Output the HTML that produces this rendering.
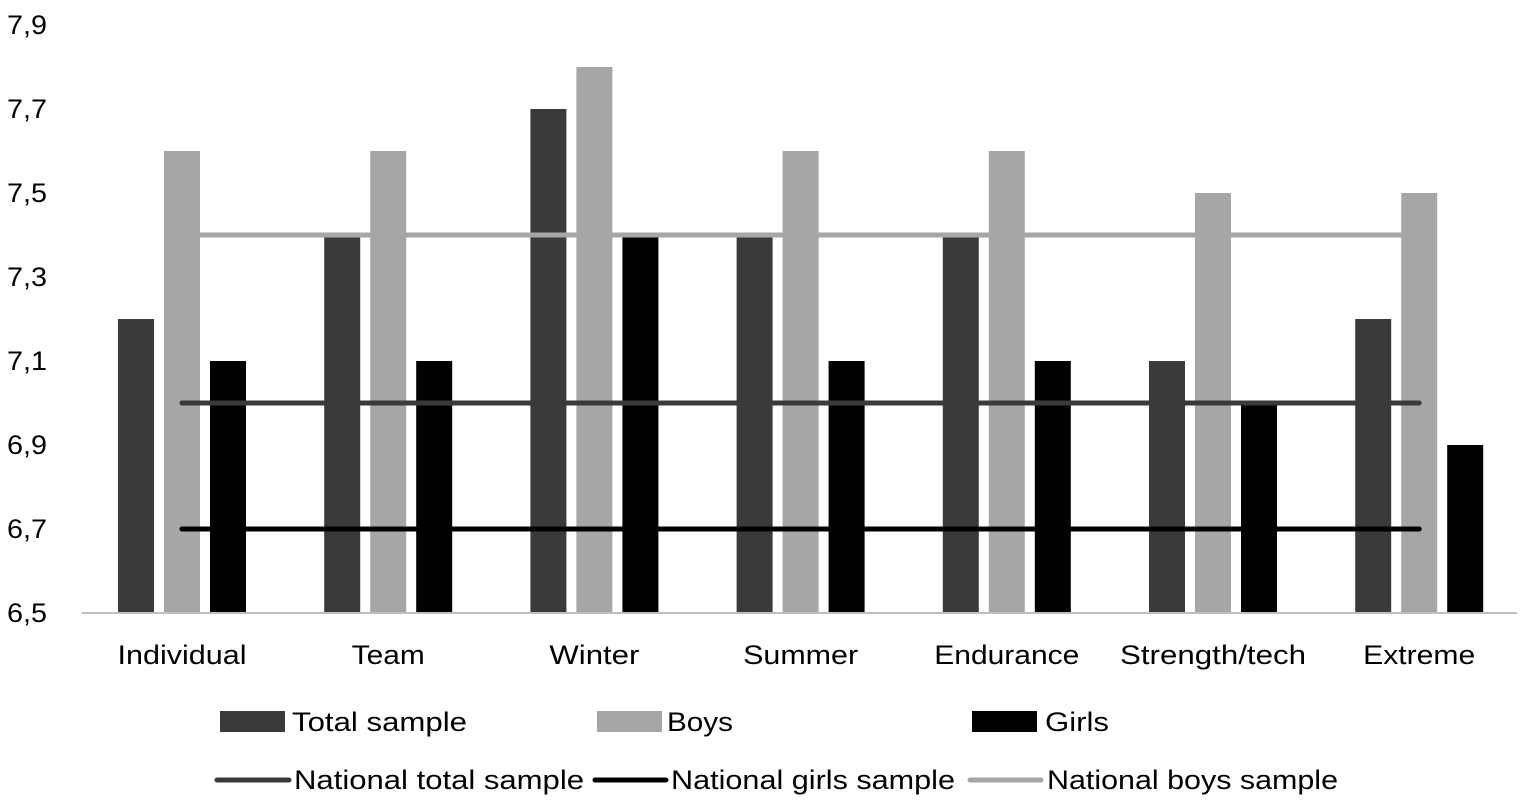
<!DOCTYPE html>
<html><head><meta charset="utf-8">
<style>
body{margin:0;background:#fff;}
svg{display:block;font-family:"Liberation Sans",sans-serif;}
</style></head>
<body>
<svg id="chart" width="1535" height="807">
<g id="yticks"></g>
<g id="bars"></g>
<g id="lines"></g>
<line x1="82" y1="613" x2="1517" y2="613" stroke="#bfbfbf" stroke-width="2"/>
<g id="xlabels"></g>
<g font-size="27" fill="#000" lengthAdjust="spacingAndGlyphs">
 <g><rect x="220" y="711" width="65" height="21" fill="#3a3a3a"/><text x="292" y="731" textLength="175" lengthAdjust="spacingAndGlyphs">Total sample</text></g>
 <g><rect x="597" y="711" width="65" height="21" fill="#a6a6a6"/><text x="667" y="731" textLength="66" lengthAdjust="spacingAndGlyphs">Boys</text></g>
 <g><rect x="972" y="711" width="65" height="21" fill="#000"/><text x="1045" y="731" textLength="64" lengthAdjust="spacingAndGlyphs">Girls</text></g>
 <g><line x1="217" y1="780" x2="289" y2="780" stroke="#3a3a3a" stroke-width="5" stroke-linecap="round"/><text x="294" y="789" textLength="290" lengthAdjust="spacingAndGlyphs">National total sample</text></g>
 <g><line x1="595" y1="780" x2="666" y2="780" stroke="#000" stroke-width="5" stroke-linecap="round"/><text x="671" y="789" textLength="284" lengthAdjust="spacingAndGlyphs">National girls sample</text></g>
 <g><line x1="970" y1="780" x2="1041" y2="780" stroke="#a6a6a6" stroke-width="5" stroke-linecap="round"/><text x="1047" y="789" textLength="291" lengthAdjust="spacingAndGlyphs">National boys sample</text></g>
</g>
</svg>
<script>
const categories=["Individual","Team","Winter","Summer","Endurance","Strength/tech","Extreme"];
const totalVals=[7.2,7.4,7.7,7.4,7.4,7.1,7.2];
const boysVals=[7.6,7.6,7.8,7.6,7.6,7.5,7.5];
const girlsVals=[7.1,7.1,7.4,7.1,7.1,7.0,6.9];
const nationalTotal=7.0;
const nationalGirls=6.7;
const nationalBoys=7.4;
const yTicks=[6.5,6.7,6.9,7.1,7.3,7.5,7.7,7.9];

const NS="http://www.w3.org/2000/svg";
const y=v=>613-(v-6.5)*420;
const x=i=>182+i*206.2;
function mk(tag,attrs,parent){const e=document.createElementNS(NS,tag);for(const k in attrs)e.setAttribute(k,attrs[k]);parent.appendChild(e);return e;}
const gy=document.getElementById('yticks');
yTicks.forEach(t=>{const e=mk('text',{x:7,y:y(t)+9,'font-size':27,fill:'#000',textLength:40,lengthAdjust:'spacingAndGlyphs'},gy);e.textContent=t.toFixed(1).replace('.',',');

});
const gb=document.getElementById('bars');
const series=[[totalVals,'#3a3a3a',-46,'total'],[boysVals,'#a6a6a6',0,'boys'],[girlsVals,'#000',46,'girls']];
categories.forEach((c,i)=>{series.forEach(([vals,col,off,nm])=>{
 const r=mk('rect',{x:x(i)+off-18,y:y(vals[i]),width:36,height:613-y(vals[i]),fill:col},gb);
 
 
});});
const gl=document.getElementById('lines');
[[nationalBoys,'#a6a6a6','boys'],[nationalTotal,'#3a3a3a','total'],[nationalGirls,'#000','girls']].forEach(([v,col,nm])=>{
 const l=mk('line',{x1:x(0),x2:x(6),y1:y(v),y2:y(v),stroke:col,'stroke-width':5,'stroke-linecap':'round'},gl);
 
 
});
const gx=document.getElementById('xlabels');
const labelW=[129,73,90,115,145,186,112];
categories.forEach((c,i)=>{const t=mk('text',{x:x(i)-labelW[i]/2,y:664,'font-size':27,fill:'#000',textLength:labelW[i],lengthAdjust:'spacingAndGlyphs'},gx);t.textContent=c;

});
</script>
</body></html>
